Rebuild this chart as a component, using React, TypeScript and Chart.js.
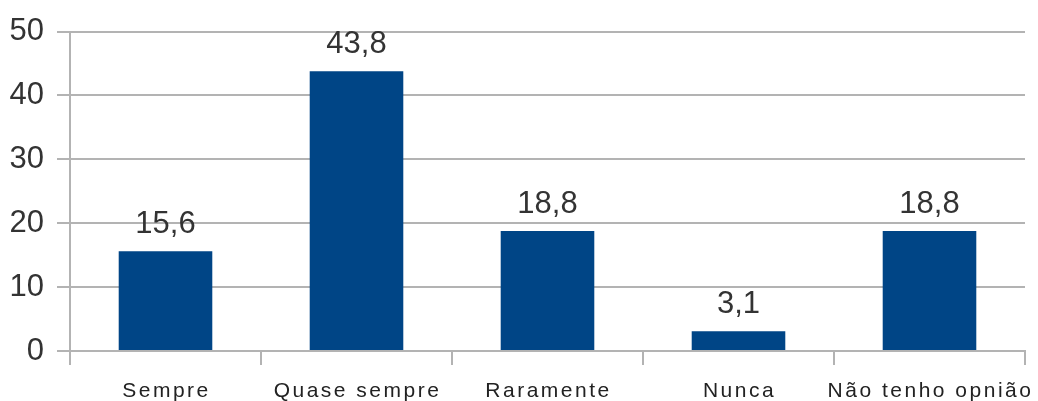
import React, { useEffect, useRef } from "react";
import { Chart, registerables } from "chart.js";

Chart.register(...registerables);

const categories = ["Sempre", "Quase sempre", "Raramente", "Nunca", "Não tenho opnião"];
const values = [15.6, 43.8, 18.8, 3.1, 18.8];
const yTicks = [0, 10, 20, 30, 40, 50];

const FONT = "'Liberation Sans', Arial, sans-serif";

const labelPlugin = {
  id: "valueLabels",
  afterDatasetsDraw(chart: any) {
    const ctx = chart.ctx;
    const meta = chart.getDatasetMeta(0);
    ctx.save();
    ctx.font = `31px ${FONT}`;
    ctx.fillStyle = "#333333";
    ctx.textAlign = "center";
    ctx.textBaseline = "alphabetic";
    meta.data.forEach((bar: any, i: number) => {
      const txt = values[i].toFixed(1).replace(".", ",");
      ctx.fillText(txt, bar.x, bar.y - 18);
    });
    ctx.restore();
  },
  afterDraw(chart: any) {
    const ctx = chart.ctx;
    const xs = chart.scales.x;
    ctx.save();
    ctx.font = `21px ${FONT}`;
    ctx.fillStyle = "#222222";
    ctx.textAlign = "center";
    ctx.textBaseline = "alphabetic";
    try {
      (ctx as any).letterSpacing = "2.5px";
    } catch (e) {}
    categories.forEach((c, i) => {
      ctx.fillText(c, xs.getPixelForValue(i) + 1, 397);
    });
    ctx.restore();
  },
};

export default function App() {
  const ref = useRef<HTMLCanvasElement | null>(null);
  useEffect(() => {
    document.body.style.margin = "0";
    const chart = new Chart(ref.current!, {
      type: "bar",
      data: {
        labels: categories,
        datasets: [
          {
            data: values,
            backgroundColor: "#004586",
            borderWidth: 0,
            barPercentage: 0.98,
            categoryPercentage: 0.5,
          },
        ],
      },
      options: {
        animation: false,
        responsive: false,
        maintainAspectRatio: false,
        layout: { padding: { top: 30, right: 13, left: 0, bottom: 0 } },
        plugins: { legend: { display: false }, tooltip: { enabled: false } },
        scales: {
          x: {
            offset: true,
            grid: {
              offset: true,
              color: (c: any) => (c.index === 0 || c.index === categories.length ? "#b3b3b3" : "rgba(0,0,0,0)"),
              tickColor: "#b3b3b3",
              tickLength: 14,
              lineWidth: 2,
            },
            border: { color: "#b3b3b3", width: 2 },
            ticks: { display: false },
            afterFit: (s: any) => {
              s.height = 50;
            },
          },
          y: {
            min: 0,
            max: 50,
            afterBuildTicks: (s: any) => {
              s.ticks = yTicks.map((v) => ({ value: v }));
            },
            grid: { color: "#b3b3b3", tickLength: 13, lineWidth: 2 },
            border: { color: "#b3b3b3", width: 2 },
            ticks: {
              font: { family: FONT, size: 31 },
              color: "#333333",
              padding: 13,
            },
            afterFit: (s: any) => {
              s.width = 70;
            },
          },
        },
      },
      plugins: [labelPlugin],
    });
    return () => chart.destroy();
  }, []);
  return (
    <div style={{ width: 1038, height: 401 }}>
      <canvas ref={ref} width={1038} height={401} />
    </div>
  );
}
